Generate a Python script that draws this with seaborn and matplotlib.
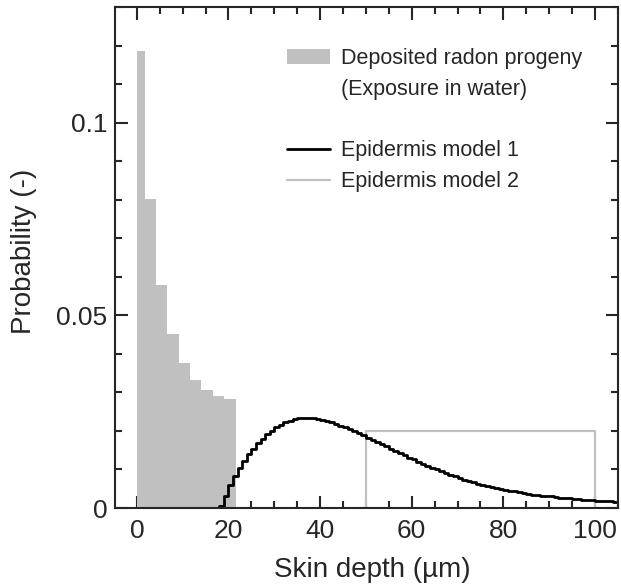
import numpy as np
import pandas as pd
import matplotlib
matplotlib.use("Agg")
import matplotlib.pyplot as plt
import seaborn as sns
from matplotlib.patches import Patch
from matplotlib.lines import Line2D
from matplotlib.ticker import MultipleLocator

# deposited radon progeny (exposure in water), bin edges in um
progeny_edges = [0, 1.7, 4.1, 6.6, 9.1, 11.6, 14.1, 16.6, 19.1, 21.6]
progeny_prob = [0.1185, 0.0802, 0.0580, 0.0451, 0.0376, 0.0332, 0.0306, 0.0291, 0.0282]

# epidermis model 1, 1 um bins starting at 17 um
model1_start = 17
model1_prob = [
    0.0, 0.0006, 0.0030, 0.0060, 0.0084, 0.0104, 0.0122, 0.0139, 0.0154, 0.0168,
    0.0180, 0.0191, 0.0201, 0.0209, 0.0216, 0.0222, 0.0227, 0.0230, 0.0233, 0.0234,
    0.0234, 0.0233, 0.0231, 0.0229, 0.0226, 0.0222, 0.0218, 0.0214, 0.0209, 0.0204,
    0.0199, 0.0194, 0.0189, 0.0183, 0.0177, 0.0172, 0.0166, 0.0160, 0.0154, 0.0148,
    0.0143, 0.0137, 0.0131, 0.0126, 0.0120, 0.0115, 0.0110, 0.0105, 0.0100, 0.0095,
    0.0091, 0.0086, 0.0082, 0.0078, 0.0074, 0.0070, 0.0067, 0.0063, 0.0060, 0.0057,
    0.0054, 0.0052, 0.0049, 0.0047, 0.0045, 0.0043, 0.0041, 0.0039, 0.0037, 0.0035,
    0.0034, 0.0032, 0.0031, 0.0030, 0.0028, 0.0027, 0.0026, 0.0025, 0.0024, 0.0023,
    0.0022, 0.0021, 0.0020, 0.0019, 0.0018, 0.0018, 0.0017, 0.0016,
]

# epidermis model 2, uniform between 50 and 100 um
model2_edges = [49, 50, 100, 101]
model2_prob = [0.0, 0.02, 0.0]

sns.set_style("ticks")
plt.rcParams["font.family"] = ["Liberation Sans", "DejaVu Sans"]
plt.rcParams["axes.linewidth"] = 1.5

def centers(edges):
    e = np.asarray(edges, dtype=float)
    return (e[:-1] + e[1:]) / 2

df_prog = pd.DataFrame({"depth": centers(progeny_edges), "prob": progeny_prob})
m1_edges = list(range(model1_start, model1_start + len(model1_prob) + 1))
df_m1 = pd.DataFrame({"depth": centers(m1_edges), "prob": model1_prob})
df_m2 = pd.DataFrame({"depth": centers(model2_edges), "prob": model2_prob})

fig = plt.figure(figsize=(6.21, 5.88), dpi=100)
ax = fig.add_axes([0.185, 0.136, 0.81, 0.852])

gray = "#c0c0c0"
sns.histplot(data=df_prog, x="depth", weights="prob", bins=progeny_edges,
             color=gray, alpha=1, linewidth=0, edgecolor="none", ax=ax)
sns.histplot(data=df_m2, x="depth", weights="prob", bins=model2_edges,
             element="step", fill=False, color=gray, linewidth=1.6, ax=ax)
sns.histplot(data=df_m1, x="depth", weights="prob", bins=m1_edges,
             element="step", fill=False, color="black", linewidth=2.0, ax=ax)

ax.set_xlim(-4.8, 105)
ax.set_ylim(0, 0.13)
ax.xaxis.set_major_locator(MultipleLocator(20))
ax.xaxis.set_minor_locator(MultipleLocator(5))
ax.yaxis.set_major_locator(MultipleLocator(0.05))
ax.yaxis.set_minor_locator(MultipleLocator(0.01))
ax.set_yticks([0, 0.05, 0.1])
ax.set_yticklabels(["0", "0.05", "0.1"])
ax.tick_params(which="both", direction="in", top=True, right=True, width=1.5,
               labelsize=19)
ax.tick_params(which="major", length=9)
ax.tick_params(which="minor", length=5)
ax.tick_params(axis="x", which="major", pad=8)
ax.tick_params(axis="y", which="major", pad=5.5)

ax.set_xlabel("Skin depth (\u00b5m)", fontsize=20)
ax.set_ylabel("Probability (-)", fontsize=20)
ax.xaxis.set_label_coords(0.512, -0.097)
ax.yaxis.set_label_coords(-0.155, 0.513)

blank = Line2D([], [], color="none")
handles = [Patch(facecolor=gray, edgecolor="none"), blank, blank,
           Line2D([], [], color="black", linewidth=2.0),
           Line2D([], [], color=gray, linewidth=1.6)]
labels = ["Deposited radon progeny", "(Exposure in water)", "",
          "Epidermis model 1", "Epidermis model 2"]
ax.legend(handles, labels, loc="upper left", bbox_to_anchor=(0.342, 0.919),
          frameon=False, fontsize=15.5, handlelength=2.0, handletextpad=0.5,
          labelspacing=0.46, borderpad=0, borderaxespad=0)

fig.savefig("out.png", dpi=100)
